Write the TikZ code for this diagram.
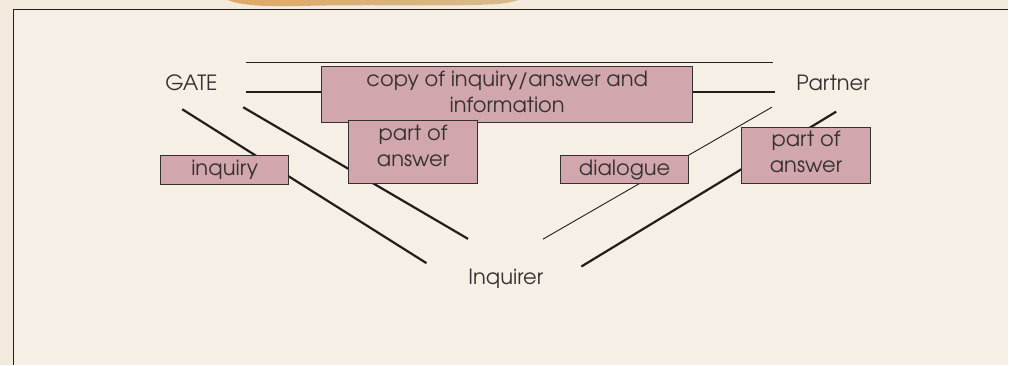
\documentclass[tikz,border=0pt]{standalone}
\usepackage{fontspec}
\setmainfont{TeX Gyre Adventor}

\definecolor{margin}{HTML}{F1EADD}
\definecolor{paper}{HTML}{F6EFE5}
\definecolor{rose}{HTML}{D2A6AD}
\definecolor{ink}{HTML}{353131}
\definecolor{wire}{HTML}{221E1C}
\definecolor{tanleft}{HTML}{DFA866}
\definecolor{tanright}{HTML}{D6BB8C}

\begin{document}
\begin{tikzpicture}[x=1pt, y=-1pt,
    every node/.style={font=\fontsize{21}{26}\selectfont, text=ink},
    tag/.style={draw=ink, line width=1pt, fill=rose, align=center, inner sep=0pt},
    link/.style={wire, line width=2.2pt},
    thinlink/.style={wire, line width=0.9pt}]

    % Page and frame
    \fill[margin] (0,0) rectangle (1009,365);
    \fill[paper] (13.5,9.5) rectangle (1009,365);
    \shade[left color=tanleft, right color=tanright]
        (228,0) .. controls (240,5) and (262,7) .. (300,6)
        .. controls (380,4) and (450,7) .. (498,4)
        .. controls (510,3) and (515,1) .. (519,0) -- cycle;
    \draw[wire, line width=1.2pt] (13.5,365) -- (13.5,9.5) -- (1009,9.5);

    % Parties
    \node[anchor=base] (gate) at (191.5,90.7) {GATE};
    \node[anchor=base] (partner) at (833.5,90.7) {Partner};
    \node[anchor=base] (inquirer) at (506,285) {Inquirer};

    % Line ends
    \coordinate (gateTop) at (246,62.7);
    \coordinate (partnerTop) at (773,62.7);
    \coordinate (gateMid) at (246,92.3);
    \coordinate (partnerMid) at (775,92.3);
    \coordinate (gateA) at (182.3,109.3);
    \coordinate (inqA) at (426.7,263.3);
    \coordinate (gateB) at (243.3,107.3);
    \coordinate (inqB) at (468.3,239);
    \coordinate (partnerA) at (772.3,107.3);
    \coordinate (inqC) at (543.3,239.3);
    \coordinate (partnerB) at (836.7,111.7);
    \coordinate (inqD) at (581.7,266.7);

    % GATE -- Partner
    \draw[thinlink] (gateTop) -- (partnerTop);
    \draw[link] (gateMid) -- (partnerMid);

    % GATE -- Inquirer
    \draw[link] (gateA) -- (inqA);
    \draw[link] (gateB) -- (inqB);

    % Partner -- Inquirer
    \draw[thinlink] (partnerA) -- (inqC);
    \draw[link] (partnerB) -- (inqD);

    % Labels on the lines
    \node[tag, minimum width=371pt, minimum height=56pt, text depth=6pt] (copy) at (507.5,94.7)
        {copy of inquiry/answer and\\information};
    \node[tag, minimum width=128.5pt, minimum height=28.3pt] (inquiry) at (224.8,170.2) {inquiry};
    \node[tag, minimum width=128.7pt, minimum height=62.6pt, text depth=13pt] (answerG) at (413.3,152)
        {part of\\answer};
    \node[tag, minimum width=128.6pt, minimum height=28pt] (dialogue) at (625,169.7) {dialogue};
    \node[tag, minimum width=128.4pt, minimum height=56.4pt, text depth=8pt] (answerP) at (806.5,155.5)
        {part of\\answer};
\end{tikzpicture}
\end{document}
